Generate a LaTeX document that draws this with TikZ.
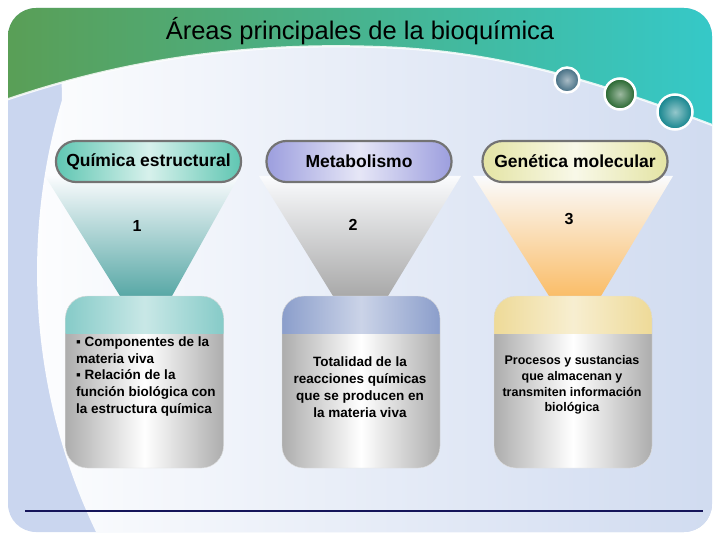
\documentclass[tikz,border=0pt]{standalone}
\usepackage{fontspec}
\setmainfont{Liberation Sans}
\usetikzlibrary{positioning,calc}
\definecolor{hdrgreen}{HTML}{5A9E55}
\definecolor{hdrteal}{HTML}{35C9C9}
\definecolor{bglav}{HTML}{D0DBF0}
\definecolor{bgblue}{HTML}{CAD6EF}
\definecolor{quimica}{HTML}{5FC6B2}
\definecolor{metab}{HTML}{9C9EDE}
\definecolor{genet}{HTML}{E4E4A4}
\definecolor{quimband}{HTML}{86CBC8}
\definecolor{metaband}{HTML}{8B9ECB}
\definecolor{genband}{HTML}{EEDA98}
\definecolor{quimfun}{HTML}{58A8A6}
\definecolor{metafun}{HTML}{A9A9A9}
\definecolor{genfun}{HTML}{FABD68}
\definecolor{silver}{HTML}{ADADAD}
\definecolor{footline}{HTML}{15155A}
\definecolor{dotblue}{HTML}{3F6A80}
\definecolor{dotgreen}{HTML}{24642C}
\definecolor{dotteal}{HTML}{11838C}

\begin{document}
\begin{tikzpicture}[x=1pt,y=-1pt,
  pill/.style={draw=black!55,line width=2.2pt,rounded corners=20pt,minimum width=185pt,minimum height=41pt,left color=#1,right color=#1,middle color=#1!25!white,font=\bfseries\fontsize{17.5}{20}\selectfont},
  areabox/.style={draw=black!12,rounded corners=22pt,minimum width=158pt,minimum height=172pt,left color=silver,right color=silver,middle color=white,
    path picture={\shade[sharp corners,left color=#1,right color=#1,middle color=#1!45!white] (path picture bounding box.north west) rectangle ([yshift=-37pt]path picture bounding box.north east);}},
  number/.style={font=\bfseries\fontsize{16}{19}\selectfont},
  areatext/.style={inner sep=0pt,font=\bfseries\fontsize{13.5}{16.8}\selectfont},
  dot/.style={circle,draw=white,line width=2.5pt,inner color=#1!45!white,outer color=#1}]
\useasboundingbox (0,0) rectangle (720,540);
\begin{scope}
\clip[rounded corners=28pt] (8,8) rectangle (712,532);
\fill[bgblue] (0,0) rectangle (720,540);
\shade[left color=white!96!bglav,right color=bglav] (60,0) -- (720,0) -- (720,540) -- (100,540) .. controls (30,400) and (20,240) .. (62,100) -- cycle;
\shade[left color=hdrgreen,right color=hdrteal] (0,0) -- (720,0) -- (720,128) .. controls (620,90) and (520,55) .. (400,48) .. controls (250,40) and (120,60) .. (0,102) -- cycle;
\draw[white,line width=2.2pt,opacity=.85] (720,128) .. controls (620,90) and (520,55) .. (400,48) .. controls (250,40) and (120,60) .. (0,102);
\end{scope}
\node[dot=dotblue,minimum size=25pt] (dot1) at (567,80) {};
\node[dot=dotgreen,minimum size=31pt] (dot2) at (620,94) {};
\node[dot=dotteal,minimum size=35pt] (dot3) at (675,112) {};
\node (title) at (360,31) {\fontsize{25.5}{30}\selectfont Áreas principales de la bioquímica};

\shade[top color=white!90!bglav,bottom color=quimfun] (45,176) -- (239,176) -- (172,296) -- (120,296) -- cycle;
\shade[top color=white!90!bglav,bottom color=metafun] (259,176) -- (461,176) -- (388,296) -- (333,296) -- cycle;
\shade[top color=white!90!bglav,bottom color=genfun] (473,176) -- (673,176) -- (601,296) -- (549,296) -- cycle;

\node[pill=quimica] (quimica) at (148.5,161.5) {Química estructural};
\node[pill=metab] (metab) at (359,161.5) {Metabolismo};
\node[pill=genet] (genet) at (575,161.5) {Genética molecular};
\node[number] (num1) at (137,226) {1};
\node[number] (num2) at (353,225) {2};
\node[number] (num3) at (569,219) {3};

\node[areabox=quimband] (boxA) at (144.5,382) {};
\node[areabox=metaband] (boxB) at (361,382) {};
\node[areabox=genband] (boxC) at (573,382) {};
\node[areatext,anchor=west,align=left] (textA) at (76,376.5) {▪ Componentes de la\\materia viva\\▪ Relación de la\\función biológica con\\la estructura química};
\node[areatext,align=center] (textB) at (360,387) {Totalidad de la\\reacciones químicas\\que se producen en\\la materia viva};
\node[areatext,align=center,font=\bfseries\fontsize{12.5}{15.6}\selectfont] (textC) at (572,385) {Procesos y sustancias\\que almacenan y\\transmiten información\\biológica};

\coordinate (footL) at (25,511);
\coordinate (footR) at (703,511);
\draw[footline,line width=1.2pt] (footL) -- (footR);
\end{tikzpicture}
\end{document}
